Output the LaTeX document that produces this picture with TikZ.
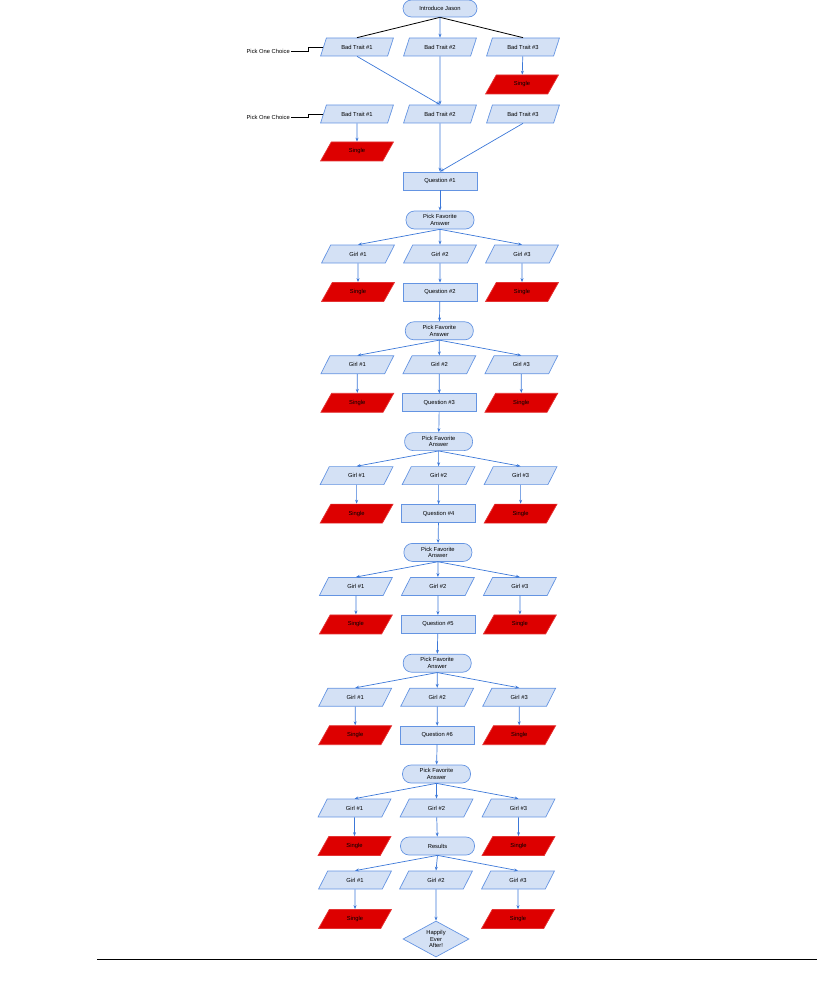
\documentclass[tikz,border=0pt]{standalone}
\usepackage{fontspec}
\setmainfont{Liberation Sans}
\usetikzlibrary{shapes.geometric,arrows.meta,positioning}
\definecolor{boxfill}{RGB}{212,225,245}
\definecolor{boxline}{RGB}{100,148,226}
\definecolor{flowblue}{RGB}{60,120,216}
\definecolor{singlered}{RGB}{221,0,0}

\begin{document}
\begin{tikzpicture}[x=1pt, y=-1pt,
  font=\fontsize{5.8}{6.6}\selectfont,
  trait/.style={draw=boxline, fill=boxfill, line width=0.7pt, trapezium, trapezium left angle=63,
    trapezium right angle=117, trapezium stretches=true, minimum width=73pt, minimum height=18pt, inner sep=1pt},
  single/.style={trait, draw=singlered!80, fill=singlered, minimum height=19pt},
  question/.style={draw=boxline, fill=boxfill, line width=0.7pt, rectangle, minimum width=74pt, minimum height=18pt},
  term/.style={draw=boxline, fill=boxfill, line width=0.7pt, rectangle, rounded corners=8.5pt,
    minimum width=68pt, minimum height=18pt, inner sep=1pt, align=center},
  flow/.style={->, draw=flowblue, line width=0.7pt},
  >={Stealth[length=4pt, width=3pt]}
]
  \useasboundingbox (0,0) rectangle (817,1003);

  % introduction and bad traits
  \node[term, minimum width=74pt, minimum height=17pt] (intro) at (440,8.5) {Introduce Jason};
  \node[trait] (bt1) at (357,47) {Bad Trait \#1};
  \node[trait] (bt2) at (440,47) {Bad Trait \#2};
  \node[trait] (bt3) at (523,47) {Bad Trait \#3};
  \node[single] (sbt3) at (522,84.5) {Single};
  \node[trait] (ct1) at (357,114) {Bad Trait \#1};
  \node[trait] (ct2) at (440,114) {Bad Trait \#2};
  \node[trait] (ct3) at (523,114) {Bad Trait \#3};
  \node[single] (sct1) at (357,151.5) {Single};
  \node[question] (Q1) at (440,181) {Question \#1};
  \node[anchor=east, inner sep=1pt] (pick1) at (291,51) {Pick One Choice};
  \node[anchor=east, inner sep=1pt] (pick2) at (291,117) {Pick One Choice};

  \draw[line width=0.8pt] (intro.south) -- (bt1.north);
  \draw[line width=0.8pt] (intro.south) -- (bt3.north);
  \draw[line width=0.8pt] (pick1.east) -- ++(17,0) |- (bt1.west);
  \draw[line width=0.8pt] (pick2.east) -- ++(17,0) |- (ct1.west);
  \draw[flow] (intro) -- (bt2);
  \draw[flow] (bt3) -- (sbt3);
  \draw[flow] (bt1.south) -- (ct2.north);
  \draw[flow] (bt2) -- (ct2);
  \draw[flow] (ct1) -- (sct1);
  \draw[flow] (ct2) -- (Q1);
  \draw[flow] (ct3.south) -- (Q1.north);

  % question rounds
  \foreach \i in {1,...,6}{
    \pgfmathsetmacro\py{220+110.8*(\i-1)}
    \pgfmathsetmacro\xb{440-0.7*(\i-1)}
    \pgfmathsetmacro\xa{\xb-82}
    \pgfmathsetmacro\xc{\xb+82}
    \pgfmathtruncatemacro\j{\i+1}
    \node[term] (P\i) at (\xb,\py) {Pick Favorite\\Answer};
    \node[trait] (Ga\i) at (\xa,\py+34) {Girl \#1};
    \node[trait] (Gb\i) at (\xb,\py+34) {Girl \#2};
    \node[trait] (Gc\i) at (\xc,\py+34) {Girl \#3};
    \node[single] (Sa\i) at (\xa,\py+72) {Single};
    \node[single] (Sc\i) at (\xc,\py+72) {Single};
    \ifnum\i<6
      \node[question] (Q\j) at (\xb,\py+72) {Question \#\j};
    \else
      \node[term, minimum width=74pt] (Q\j) at (\xb+1,\py+72) {Results};
    \fi
    \draw[flow] (Q\i) -- (P\i);
    \draw[flow] (P\i.south) -- (Ga\i.north);
    \draw[flow] (P\i.south) -- (Gb\i.north);
    \draw[flow] (P\i.south) -- (Gc\i.north);
    \draw[flow] (Ga\i) -- (Sa\i);
    \draw[flow] (Gb\i) -- (Q\j);
    \draw[flow] (Gc\i) -- (Sc\i);
  }

  % results
  \node[trait] (Ga7) at (355,880) {Girl \#1};
  \node[trait] (Gb7) at (436,880) {Girl \#2};
  \node[trait] (Gc7) at (518,880) {Girl \#3};
  \node[single] (Sa7) at (355,919) {Single};
  \node[single] (Sc7) at (518,919) {Single};
  \node[diamond, draw=boxline, fill=boxfill, line width=0.7pt, aspect=1.8, inner sep=0pt,
    minimum width=66pt, minimum height=36pt, align=center,
    font=\fontsize{5.8}{6.2}\selectfont] (happy) at (436,939) {Happily\\Ever\\After!};

  \draw[flow] (Q7.south) -- (Ga7.north);
  \draw[flow] (Q7.south) -- (Gb7.north);
  \draw[flow] (Q7.south) -- (Gc7.north);
  \draw[flow] (Ga7) -- (Sa7);
  \draw[flow] (Gb7) -- (happy);
  \draw[flow] (Gc7) -- (Sc7);

  \draw[line width=1pt] (97,959) -- (817,959);
\end{tikzpicture}
\end{document}
